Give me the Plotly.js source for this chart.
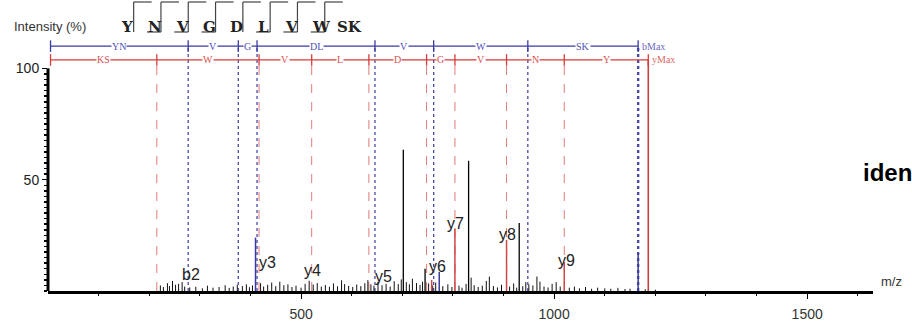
<!DOCTYPE html>
<html><head><meta charset="utf-8">
<script src="https://cdn.plot.ly/plotly-3.0.1.min.js"></script>
<style>html,body{margin:0;padding:0;background:#fff;overflow:hidden}#chart{width:912px;height:324px}</style>
</head><body><div id="chart"></div>
<script>
// ---------- data ----------
const sequence = ["Y","N","V","G","D","L","V","W","SK"];
const bFlagAfter = [false,true,true,true,false,true,true,true];   // b ion seen after residue i
const yFlagAfter = [true,true,true,true,true,true,true,true];     // y ion seen after residue i

const ladderStart = 5;
const bIonMz = [277, 376, 413, 646, 762, 948];
const bSegLabels = ["YN","V","G","DL","V","W","SK"];
const bMaxMz = 1166;
const yIonMz = [215, 417, 521, 634, 748, 804, 906, 1020];
const ySegLabels = ["KS","W","V","L","D","G","V","N","Y"];
const yMaxMz = 1186;

const blackMz  = [702, 831, 931, 745];
const blackInt = [63.5, 58.5, 30.5, 10];
const bPeakMz  = [410, 773, 1166];
const bPeakInt = [24, 8.5, 17];
const yPeakMz  = [804, 906, 1020, 758];
const yPeakInt = [28, 23, 13, 5];

const noiseMz = [222,228,236,240,246,252,258,265,270,280,292,305,315,326,338,350,358,366,374,384,392,398,404,
  420,426,434,442,450,458,466,474,482,490,500,508,516,524,532,540,548,556,564,572,580,586,594,602,610,618,626,632,638,644,652,660,668,676,684,692,698,
  708,714,720,728,735,740,752,760,766,780,790,798,812,818,826,836,842,850,858,866,872,880,888,896,912,920,926,938,944,950,958,966,972,980,988,996,1004,1012,
  1030,1040,1050,1062,1074,1086,1100,1112,1126,1140,1150,1180,1200];
const noiseInt = [2.5,1.8,3.5,2.2,4.5,2.8,3.2,4.0,2.0,1.6,1.9,1.2,2.4,1.5,1.8,2.6,1.4,2.0,2.8,2.2,3.0,1.7,2.5,
  3.5,2.0,2.8,3.8,2.2,4.2,2.6,3.0,1.8,2.4,1.5,3.2,4.6,2.9,3.6,2.0,2.7,1.9,3.4,2.1,4.8,3.1,2.3,1.8,2.9,2.2,3.5,4.9,3.0,2.4,4.1,2.6,3.2,2.0,4.4,3.1,5.2,
  4.0,3.0,5.5,3.6,2.8,4.2,3.4,2.5,3.8,2.2,3.0,1.8,2.4,1.5,3.2,6.0,2.6,1.8,2.4,4.5,6.5,2.2,1.6,2.8,2.0,3.4,1.5,2.2,4.0,3.0,2.5,6.5,4.2,2.0,1.6,3.2,4.0,2.0,
  1.5,2.0,1.2,1.8,1.0,1.5,1.2,1.0,1.4,0.9,1.0,0.8,0.6];

const ionNames   = ["b2","y3","y4","y5","y6","y7","y8","y9"];
const ionNameMz  = [283, 433, 522, 662, 769, 806, 907, 1024];
const ionNameInt = [7.6, 13, 9, 6.3, 11.2, 30.5, 25.6, 13.5];

const xTicks = [500, 1000, 1500];
const yTicks = [50, 100];

// ---------- helpers ----------
function sticks(xs, y0s, y1s){
  const X=[],Y=[];
  xs.forEach((x,i)=>{X.push(x,x,null);Y.push(typeof y0s==='number'?y0s:y0s[i], typeof y1s==='number'?y1s:y1s[i], null);});
  return {x:X,y:Y};
}
const L=48, R=39, T=35, B=33, W=912, H=324;
const pw=W-L-R, ph=H-T-B;
const px2p = px => (px-L)/pw;
const py2p = py => (H-B-py)/ph;

const BLUE='#3a3aa6', RED='#d83a3a', BLUED='#4a4aa8', REDD='#e27a7a';
const bLadderY=110, yLadderY=103.8;

const traces=[];
function addSticks(xs,y0,y1,color,width,dash){
  const s=sticks(xs,y0,y1);
  traces.push({type:'scatter',mode:'lines',x:s.x,y:s.y,line:{color:color,width:width,dash:dash||'solid'},hoverinfo:'skip'});
}
// dashed ion lines
addSticks(yIonMz,0,yLadderY,REDD,1,'dash');
addSticks(bIonMz,0,bLadderY,BLUED,1.3,'dot');
addSticks([bMaxMz],0,bLadderY,BLUED,2.4,'dot');
addSticks([yMaxMz],0,yLadderY,'#c84040',1.6);
// noise and peaks
addSticks(noiseMz,0,noiseInt,'#111',1);
addSticks(blackMz,0,blackInt,'#000',1.3);
addSticks(bPeakMz,0,bPeakInt,'#3b3b9e',1.5);
addSticks(yPeakMz,0,yPeakInt,'#d04848',1.5);
// ladders
traces.push({type:'scatter',mode:'lines',x:[ladderStart,bMaxMz],y:[bLadderY,bLadderY],line:{color:BLUE,width:1.3},hoverinfo:'skip'});
traces.push({type:'scatter',mode:'lines',x:[ladderStart,yMaxMz],y:[yLadderY,yLadderY],line:{color:RED,width:1.3},hoverinfo:'skip'});
const bBounds=[ladderStart].concat(bIonMz,[bMaxMz]);
const yBounds=[ladderStart].concat(yIonMz,[yMaxMz]);
addSticks(bBounds,bLadderY-2.6,bLadderY+2.6,BLUE,1.3);
addSticks(yBounds,yLadderY-2.6,yLadderY+2.6,RED,1.3);

const annotations=[];
bSegLabels.forEach((t,i)=>annotations.push({x:(bBounds[i]+bBounds[i+1])/2,y:bLadderY,xref:'x',yref:'y',text:t,showarrow:false,
  font:{family:'Liberation Serif',size:10,color:'#5050b8'},bgcolor:'#fff',borderpad:0}));
ySegLabels.forEach((t,i)=>annotations.push({x:(yBounds[i]+yBounds[i+1])/2,y:yLadderY,xref:'x',yref:'y',text:t,showarrow:false,
  font:{family:'Liberation Serif',size:10,color:'#d85050'},bgcolor:'#fff',borderpad:0}));
annotations.push({x:bMaxMz,y:bLadderY,xref:'x',yref:'y',text:'bMax',xanchor:'left',xshift:2,showarrow:false,font:{family:'Liberation Serif',size:10,color:'#6a6ac0'}});
annotations.push({x:yMaxMz,y:yLadderY,xref:'x',yref:'y',text:'yMax',xanchor:'left',xshift:2,showarrow:false,font:{family:'Liberation Serif',size:10,color:'#d86a6a'}});
ionNames.forEach((t,i)=>annotations.push({x:ionNameMz[i],y:ionNameInt[i],xref:'x',yref:'y',text:t,showarrow:false,
  font:{family:'Liberation Sans',size:16,color:'#222'}}));

// title, sequence
annotations.push({x:px2p(12),y:py2p(17),xref:'paper',yref:'paper',xanchor:'left',text:'Intensity (%)',showarrow:false,font:{family:'Liberation Sans',size:13,color:'#333'}});
const step=27.3, firstC=119;
const shapes=[];
sequence.forEach((s,i)=>{
  let cx=firstC+i*step; if(i===sequence.length-1) cx+=12;
  annotations.push({x:px2p(cx),y:py2p(16),xref:'paper',yref:'paper',text:'<b>'+s+'</b>',showarrow:false,font:{family:'DejaVu Serif',size:15,color:'#222'}});
  if(i<sequence.length-1){
    const bx=firstC+(i+0.5)*step+1;
    shapes.push({type:'line',xref:'paper',yref:'paper',x0:px2p(bx),x1:px2p(bx),y0:py2p(2),y1:py2p(32),line:{color:'#444',width:1.2}});
    if(yFlagAfter[i]) shapes.push({type:'line',xref:'paper',yref:'paper',x0:px2p(bx),x1:px2p(bx+18),y0:py2p(2),y1:py2p(2),line:{color:'#444',width:1.2}});
    if(bFlagAfter[i]) shapes.push({type:'line',xref:'paper',yref:'paper',x0:px2p(bx-14),x1:px2p(bx),y0:py2p(32),y1:py2p(32),line:{color:'#444',width:1.2}});
  }
});
annotations.push({x:1,y:0,xref:'paper',yref:'paper',xanchor:'left',xshift:6,text:'m/z',showarrow:false,font:{family:'Liberation Sans',size:13,color:'#333'}});
annotations.push({x:px2p(861),y:py2p(172),xref:'paper',yref:'paper',xanchor:'left',text:'<b>iden</b>',showarrow:false,font:{family:'Liberation Sans',size:24,color:'#000'}});
// y axis line (0-100 only)
shapes.push({type:'line',xref:'paper',yref:'y',x0:0,x1:0,y0:0,y1:100,line:{color:'#000',width:3}});

const minorY=[];for(let v=0;v<=100;v+=2.5)minorY.push(v);
const minorX=[];for(let v=100;v<=1600;v+=100)if(v%500)minorX.push(v);

const layout={width:W,height:H,margin:{l:L,r:R,t:T,b:B},showlegend:false,paper_bgcolor:'#fff',plot_bgcolor:'#fff',
  xaxis:{range:[0,1630],tickvals:xTicks,ticks:'outside',ticklen:5,tickcolor:'#000',tickwidth:1,showline:true,linecolor:'#000',linewidth:2.5,
    showgrid:false,zeroline:false,tickfont:{family:'Liberation Sans',size:14,color:'#333'},ticklabelstandoff:4,
    minor:{tickmode:'array',tickvals:minorX,ticks:'outside',ticklen:2,tickcolor:'#000'}},
  yaxis:{range:[0,115],tickvals:yTicks,ticks:'outside',ticklen:5,tickcolor:'#000',tickwidth:1.5,showline:false,showgrid:false,zeroline:false,
    tickfont:{family:'Liberation Sans',size:14,color:'#222'},
    minor:{tickmode:'array',tickvals:minorY,ticks:'outside',ticklen:3,tickwidth:1.5,tickcolor:'#000'}},
  annotations:annotations,shapes:shapes};
Plotly.newPlot('chart',traces,layout,{displayModeBar:false,staticPlot:true});
</script></body></html>
